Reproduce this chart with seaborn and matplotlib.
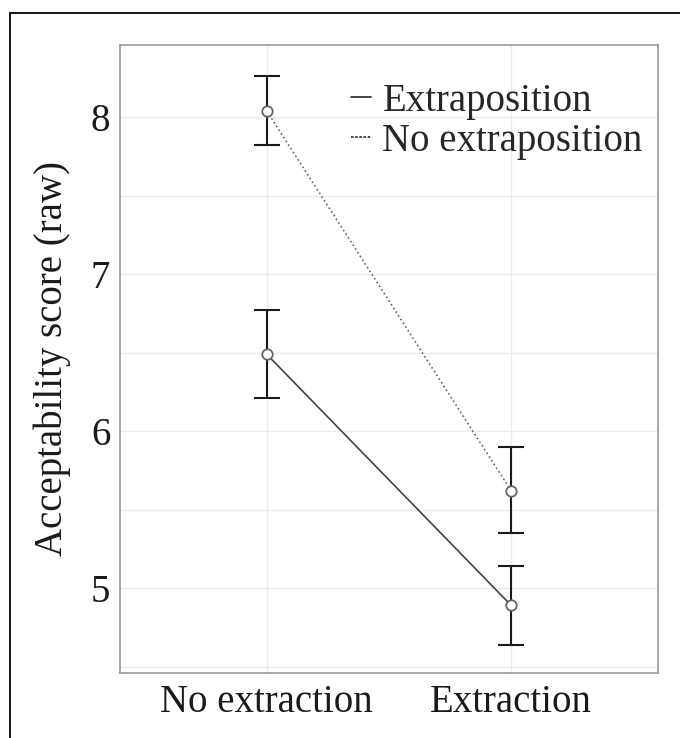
import matplotlib
matplotlib.use("Agg")
import matplotlib.pyplot as plt
from matplotlib.lines import Line2D
import seaborn as sns
import pandas as pd
import numpy as np

# ---- data ----
extraction_levels = ["No extraction", "Extraction"]
series_names = ["Extraposition", "No extraposition"]
extrap_mean = [6.49, 4.89]
extrap_low = [6.21, 4.64]
extrap_high = [6.77, 5.14]
noextrap_mean = [8.04, 5.62]
noextrap_low = [7.82, 5.35]
noextrap_high = [8.26, 5.90]
y_ticks = [5, 6, 7, 8]

df = pd.DataFrame({
    "extraction": extraction_levels * 2,
    "condition": [series_names[0]] * 2 + [series_names[1]] * 2,
    "score": extrap_mean + noextrap_mean,
    "low": extrap_low + noextrap_low,
    "high": extrap_high + noextrap_high,
})

sns.set_theme(style="whitegrid")
plt.rcParams["font.family"] = ["Liberation Serif", "DejaVu Serif"]

fig = plt.figure(figsize=(6.8, 7.38), dpi=100)
ax = fig.add_axes([120 / 680, 65 / 738, 538 / 680, 628 / 738])

# error bars
xpos = {lvl: i for i, lvl in enumerate(extraction_levels)}
for _, r in df.iterrows():
    x = xpos[r["extraction"]]
    ax.errorbar([x], [r["score"]],
                yerr=[[r["score"] - r["low"]], [r["high"] - r["score"]]],
                fmt="none", ecolor="#1a1a1a", elinewidth=1.5, capsize=9.5,
                capthick=1.5, zorder=3)

sns.pointplot(data=df, x="extraction", y="score", hue="condition",
              order=extraction_levels, hue_order=series_names,
              palette=["#444444", "#666666"], linestyles=["-", ":"],
              markers=["o", "o"], errorbar=None, dodge=False, ax=ax,
              legend=False, markersize=7.5, linewidth=1.2,
              markerfacecolor="white", markeredgecolor="#666666",
              markeredgewidth=1.3, zorder=4)

ax.set_xlim(-0.6, 1.6)
ax.set_ylim(4.46, 8.46)
ax.set_yticks(y_ticks)
ax.set_yticks(np.arange(4.5, 8.5, 1.0), minor=True)
ax.grid(True, which="both", color="#ebebeb", linewidth=1.0)
ax.set_axisbelow(True)
for s in ax.spines.values():
    s.set_color("#9a9a9a")
    s.set_linewidth(1.2)
ax.tick_params(axis="both", which="both", length=0, labelsize=28,
               colors="#1a1a1a")
ax.tick_params(axis="y", pad=7)
ax.tick_params(axis="x", pad=8)
ax.set_xlabel("")
ax.set_ylabel("Acceptability score (raw)", fontsize=28, color="#1a1a1a",
              labelpad=14)

handles = [Line2D([], [], color="#222222", linestyle="-", linewidth=1.2),
           Line2D([], [], color="#222222", linestyle=(0, (1.5, 1)), linewidth=1.2)]
ax.legend(handles, series_names, loc="upper left", frameon=False,
          fontsize=28, handlelength=0.5, handletextpad=0.3,
          labelspacing=0.08, bbox_to_anchor=(0.43, 0.94),
          borderaxespad=0.0, borderpad=0.0)

# image border (top and left)
fig.add_artist(Line2D([10 / 680, 10 / 680], [0, 1 - 13 / 738],
                      transform=fig.transFigure, color="black", linewidth=1.3))
fig.add_artist(Line2D([10 / 680, 1], [1 - 13 / 738, 1 - 13 / 738],
                      transform=fig.transFigure, color="black", linewidth=1.3))

fig.savefig("out.png", dpi=100)
